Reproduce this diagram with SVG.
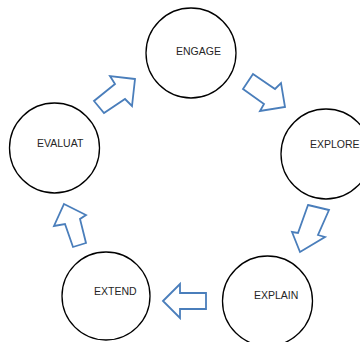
<svg xmlns="http://www.w3.org/2000/svg" width="360" height="342" viewBox="0 0 360 342">
<style>
.n{fill:#fff;stroke:#000;stroke-width:1.3}
.t{font-family:"Liberation Sans",Arial,sans-serif;font-size:10.5px;fill:#262626}
.a{fill:#fff;stroke:#4a7ebb;stroke-width:1.8;stroke-linejoin:miter}
</style>
<rect width="360" height="342" fill="#fff"/>
<g id="engage"><circle class="n" cx="191" cy="53" r="45"/><text class="t" x="176" y="55">ENGAGE</text></g>
<g id="explore"><circle class="n" cx="326" cy="154" r="45"/><text class="t" x="310" y="148">EXPLORE</text></g>
<g id="explain"><circle class="n" cx="267.5" cy="301" r="45"/><text class="t" x="254" y="299">EXPLAIN</text></g>
<g id="extend"><circle class="n" cx="106" cy="296" r="44"/><text class="t" x="94" y="295">EXTEND</text></g>
<g id="evaluat"><circle class="n" cx="54.5" cy="148" r="45"/><text class="t" x="37" y="147">EVALUAT</text></g>
<g id="connectors">
<polygon class="a" points="135,79 110,76 115,84 94,101 104,113 125,99 132,106"/>
<polygon class="a" points="253,74 243,89 264,104 260,111 285,107 281,83 275,89"/>
<polygon class="a" points="308,205 329,210 318,235 325,237 300,252 292,232 298,233"/>
<polygon class="a" points="163,301 180,284 180,293 206,293 206,309 180,309 180,318"/>
<polygon class="a" points="64,204 86,215 80,219 86,243 73,247 65,224 54,226"/>
</g>
</svg>
